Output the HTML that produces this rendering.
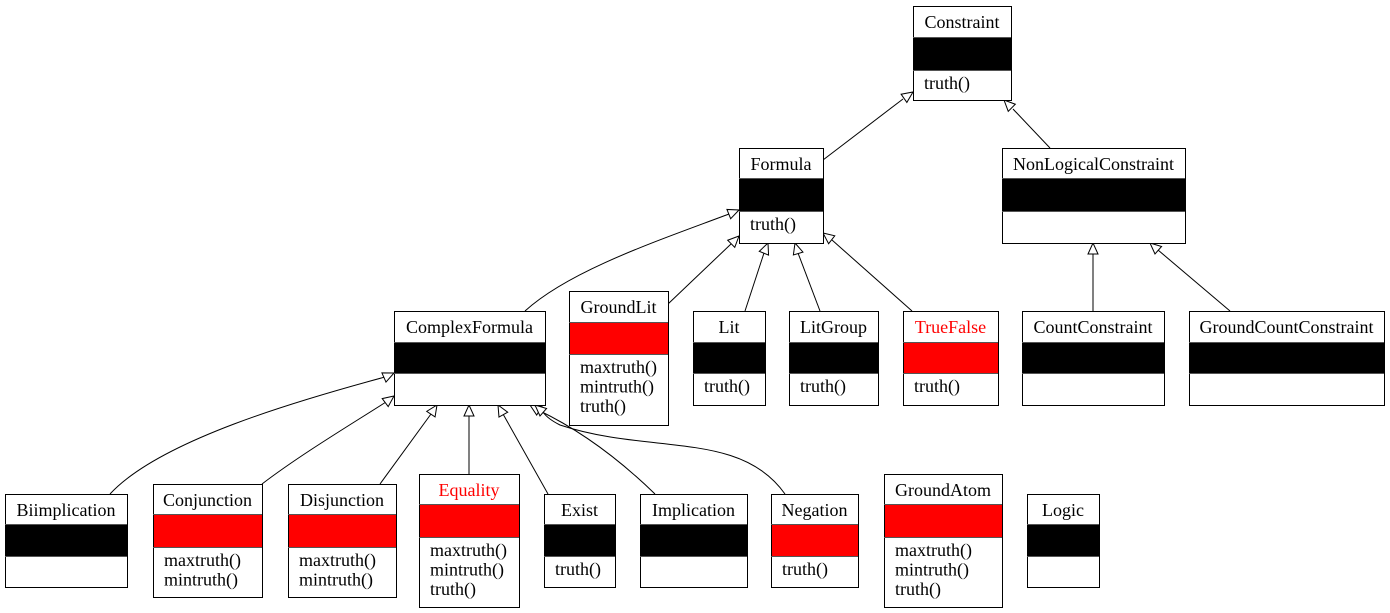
<!DOCTYPE html>
<html><head><meta charset="utf-8"><style>
html,body{margin:0;padding:0;background:#fff;}
svg{display:block;}
text{font-family:"Liberation Serif",serif;font-size:18px;}
</style></head><body>
<svg id="d" width="1390" height="613" viewBox="0 0 1390 613" xmlns="http://www.w3.org/2000/svg"></svg>
<script>
const svg=document.getElementById('d');
const NS='http://www.w3.org/2000/svg';
const nodes=[
['Constraint',913,6,1011,100,37,70,'#000','#000',['truth()']],
['Formula',739,148,823,243,178,211,'#000','#000',['truth()']],
['NonLogicalConstraint',1002,148,1185,243,178,211,'#000','#000',[]],
['ComplexFormula',394,311,545,405,342,373,'#000','#000',[]],
['GroundLit',569,291,668,425,322,354,'#f00','#000',['maxtruth()','mintruth()','truth()']],
['Lit',693,311,765,405,342,373,'#000','#000',['truth()']],
['LitGroup',789,311,878,405,342,373,'#000','#000',['truth()']],
['TrueFalse',903,311,998,405,342,373,'#f00','#f00',['truth()']],
['CountConstraint',1022,311,1164,405,342,373,'#000','#000',[]],
['GroundCountConstraint',1189,311,1384,405,342,373,'#000','#000',[]],
['Biimplication',5,494,127,587,524,556,'#000','#000',[]],
['Conjunction',153,484,262,597,514,547,'#f00','#000',['maxtruth()','mintruth()']],
['Disjunction',288,484,396,597,514,547,'#f00','#000',['maxtruth()','mintruth()']],
['Equality',419,474,519,607,504,537,'#f00','#f00',['maxtruth()','mintruth()','truth()']],
['Exist',544,494,615,587,524,556,'#000','#000',['truth()']],
['Implication',640,494,747,587,524,556,'#000','#000',[]],
['Negation',771,494,858,587,524,556,'#f00','#000',['truth()']],
['GroundAtom',884,474,1002,607,504,537,'#f00','#000',['maxtruth()','mintruth()','truth()']],
['Logic',1027,494,1099,587,524,556,'#000','#000',[]]
];
const edges=[
['M823,160 L903,99',913,92],
['M1050,148 L1013,109',1004,100],
['M525,311 C570,270 660,240 729,214',739,210],
['M668,304 L731,244',739,236],
['M745,311 L764,253',768,243],
['M820,311 L798,253',795,243],
['M912,311 L832,240',823,233],
['M1093,311 L1093,253',1093,243],
['M1230,311 L1158,250',1150,243],
['M110,494 C160,440 300,400 385,377',394,373],
['M262,484 C300,455 350,425 386,402',394,396],
['M380,484 L431,414',437,405],
['M469,474 L469,415',469,405],
['M548,494 L503,414',498,405],
['M655,494 C620,460 580,430 538,410',530,405],
['M785,494 C740,430 650,455 560,425 C550,420 545,415 543,412',535,405]
];
function el(t,a,p){const e=document.createElementNS(NS,t);for(const k in a)e.setAttribute(k,a[k]);(p||svg).appendChild(e);return e;}
edges.forEach((ed,i)=>{
  const g=el('g',{});
  
  
  el('path',{d:ed[0],fill:'none',stroke:'#000','stroke-width':1},g);
  const nums=ed[0].match(/-?\d+(\.\d+)?/g).map(Number);
  const px=nums[nums.length-2],py=nums[nums.length-1];
  const tx=ed[1],ty=ed[2];
  let dx=tx-px,dy=ty-py;const L=Math.hypot(dx,dy);dx/=L;dy/=L;
  const len=11,w=5;const bx=tx-dx*len,by=ty-dy*len;
  const pts=[[tx,ty],[bx-dy*w,by+dx*w],[bx+dy*w,by-dx*w]];
  el('polygon',{points:pts.map(p=>p.join(',')).join(' '),fill:'#fff',stroke:'#000'},g);
});
nodes.forEach(n=>{
  const [name,x1,y1,x2,y2,hb,bb,bc,tc,ms]=n;
  const g=el('g',{});
  
  
  el('rect',{x:x1+0.5,y:y1+0.5,width:x2-x1,height:y2-y1,fill:'#fff',stroke:'#000'},g);
  el('rect',{x:x1+1,y:hb,width:x2-x1-1,height:bb-hb,fill:bc},g);
  el('line',{x1:x1,x2:x2,y1:hb+0.5,y2:hb+0.5,stroke:'#555'},g);
  el('line',{x1:x1,x2:x2,y1:bb+0.5,y2:bb+0.5,stroke:'#555'},g);
  const t=el('text',{x:(x1+x2)/2,y:y1+22,'text-anchor':'middle',fill:tc},g);
  t.textContent=name;
  ms.forEach((m,i)=>{const tt=el('text',{x:x1+11,y:bb+19+i*19.5},g);tt.textContent=m;});
});
</script>
</body></html>
